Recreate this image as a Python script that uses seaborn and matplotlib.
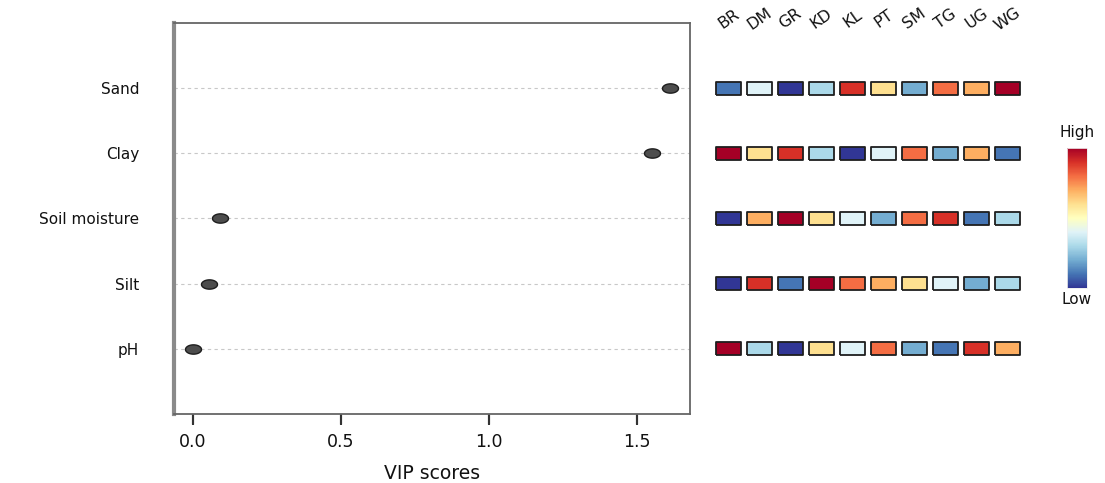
import numpy as np
import pandas as pd
import matplotlib
matplotlib.use("Agg")
import matplotlib.pyplot as plt
from matplotlib.path import Path
from matplotlib.lines import Line2D
from matplotlib.transforms import blended_transform_factory
import matplotlib as mpl
import seaborn as sns

# ---- data ----
variables = ["Sand", "Clay", "Soil moisture", "Silt", "pH"]
vip_scores = [1.61, 1.55, 0.09, 0.055, 0.0]
sites = ["BR", "DM", "GR", "KD", "KL", "PT", "SM", "TG", "UG", "WG"]
# rank of each site within each variable (1 = low, 10 = high)
rank_sand = [2, 5, 1, 4, 9, 6, 3, 8, 7, 10]
rank_clay = [10, 6, 9, 4, 1, 5, 8, 3, 7, 2]
rank_moist = [1, 7, 10, 6, 5, 3, 8, 9, 2, 4]
rank_silt = [1, 9, 2, 10, 8, 7, 6, 5, 3, 4]
rank_ph = [10, 4, 1, 6, 5, 8, 3, 2, 9, 7]
ranks = [rank_sand, rank_clay, rank_moist, rank_silt, rank_ph]
xtick_values = [0.0, 0.5, 1.0, 1.5]
xtick_labels = ["0.0", "0.5", "1.0", "1.5"]

# 10-class palette, low -> high
palette10 = ["#313695", "#4575b4", "#74add1", "#abd9e9", "#e0f3f8",
             "#fee090", "#fdae61", "#f46d43", "#d73027", "#a50026"]

sns.set_theme(style="ticks", rc={"xtick.major.size": 8,
                                 "xtick.major.width": 1.5, "xtick.color": "#333333"})
plt.rcParams["font.family"] = ["DejaVu Sans"]

fig = plt.figure(figsize=(11.05, 4.83), dpi=100)
W, H = 1105, 483

def fx(px):
    return px / W

def fy(py):
    return 1 - py / H

ax_top, ax_bot = 23, 414
ax = fig.add_axes([fx(174), fy(ax_bot), fx(690) - fx(174), fy(ax_top) - fy(ax_bot)])

# ellipse marker (picture is horizontally stretched)
t = np.linspace(0, 2 * np.pi, 60)
ell = Path(np.column_stack([np.cos(t), 0.58 * np.sin(t)]))

df = pd.DataFrame({"variable": variables, "vip": vip_scores,
                   "ypos": np.arange(len(variables))})
for yy in df["ypos"]:
    ax.axhline(yy, color="#c8c8c8", lw=0.8, ls=(0, (3, 3)), zorder=0)
sns.scatterplot(data=df, x="vip", y="ypos", ax=ax, marker=ell, s=16 ** 2 * 0.52,
                color="#4d4d4d", edgecolor="#1e1e1e", linewidth=1.0, zorder=3,
                legend=False)
ax.set_xlim(-0.064, 1.679)
ax.set_ylim(len(variables), -1)
ax.set_yticks(df["ypos"], variables)
ax.set_xticks(xtick_values, xtick_labels)
ax.tick_params(axis="y", left=False, length=0, pad=25, labelsize=11, labelcolor="#111")
ax.tick_params(axis="x", bottom=True, direction="out", length=8, width=1.5,
               color="#333333", pad=6, labelsize=12.5, labelcolor="#111")
ax.set_xlabel("VIP scores", fontsize=13.5, labelpad=9, color="#111")
ax.set_ylabel("")
for side in ["top", "right", "bottom"]:
    ax.spines[side].set_visible(True)
    ax.spines[side].set_color("#666666")
    ax.spines[side].set_linewidth(1.3)
ax.spines["left"].set_color("#8a8a8a")
ax.spines["left"].set_linewidth(3)

# tick marks as figure-level segments: x from the axis' data scale, y in figure fraction
tick_tr = blended_transform_factory(ax.transData, fig.transFigure)
for xv in ax.get_xticks():
    fig.add_artist(Line2D([xv, xv], [fy(415), fy(424)], transform=tick_tr,
                          color="#333333", linewidth=1.5, solid_capstyle="butt",
                          clip_on=False, zorder=10))

# ---- heatmap of ranks ----
ax2 = fig.add_axes([fx(713), fy(ax_bot), fx(1023) - fx(713), fy(ax_top) - fy(ax_bot)])
long = pd.DataFrame([(j, i, ranks[i][j]) for i in range(len(variables))
                     for j in range(len(sites))], columns=["col", "row", "rank"])
rect = Path([(-1, -0.52), (1, -0.52), (1, 0.52), (-1, 0.52), (-1, -0.52)])
sns.scatterplot(data=long, x="col", y="row", hue="rank",
                palette={k + 1: c for k, c in enumerate(palette10)},
                marker=rect, s=18.2 ** 2, edgecolor="#1e1e1e", linewidth=1.3,
                ax=ax2, legend=False)
ax2.set_xlim(-0.5, len(sites) - 0.5)
ax2.set_ylim(len(variables), -1)
ax2.set_yticks([])
ax2.xaxis.tick_top()
ax2.set_xticks(range(len(sites)), sites)
ax2.tick_params(axis="x", top=False, bottom=False, length=0, pad=3,
                labelsize=11.5, labelcolor="#111")
for lab in ax2.get_xticklabels():
    lab.set_rotation(35)
    lab.set_ha("center")
    lab.set_va("center")
ax2.set_xlabel("")
ax2.set_ylabel("")
for s in ax2.spines.values():
    s.set_visible(False)

# ---- colorbar ----
cax = fig.add_axes([fx(1067), fy(288), fx(1087) - fx(1067), fy(148) - fy(288)])
sm = mpl.cm.ScalarMappable(cmap="RdYlBu_r", norm=mpl.colors.Normalize(0, 1))
cb = fig.colorbar(sm, cax=cax)
cb.set_ticks([])
cb.outline.set_edgecolor("#eeeeee")
cb.outline.set_linewidth(0.6)
fig.text(fx(1077), fy(133), "High", ha="center", va="center", fontsize=11, color="#111")
fig.text(fx(1077), fy(300), "Low", ha="center", va="center", fontsize=11, color="#111")

fig.savefig("out.png", dpi=100)
